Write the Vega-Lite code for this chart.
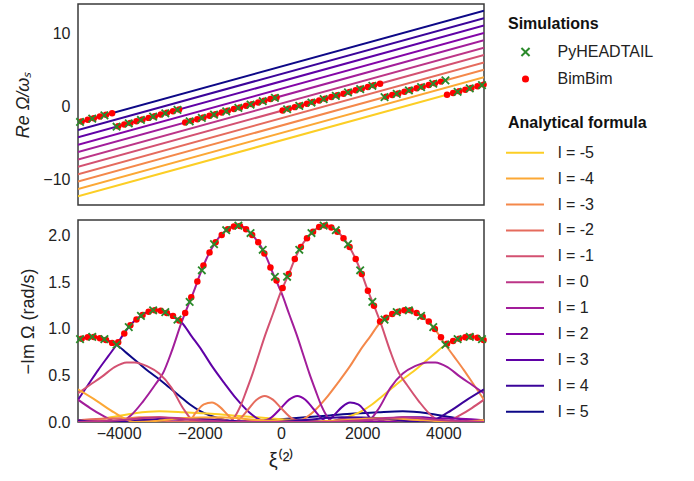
{
"$schema":"https://vega.github.io/schema/vega-lite/v6.json",
"padding":{"left":14,"right":5,"top":3,"bottom":5},
"config":{"font":"Liberation Sans","view":{"stroke":"#3a3a3a","strokeWidth":1.5},
"axis":{"grid":false,"domain":false,"ticks":false,"labelFontSize":16,"labelColor":"#222","titleFontSize":18,"titleFontWeight":"normal","titleColor":"#222","labelPadding":8},
"legend":{"padding":0,"titleFontSize":16,"titleFontWeight":"bold","titleColor":"#111","labelFontSize":16,"labelColor":"#222"}},
"datasets":{
"lines":[{"l":-5,"x":-5000,"y":-12.32},{"l":-5,"x":5000,"y":2.98},{"l":-4,"x":-5000,"y":-11.31},{"l":-4,"x":5000,"y":3.99},{"l":-3,"x":-5000,"y":-10.30},{"l":-3,"x":5000,"y":5.00},{"l":-2,"x":-5000,"y":-9.29},{"l":-2,"x":5000,"y":6.01},{"l":-1,"x":-5000,"y":-8.28},{"l":-1,"x":5000,"y":7.02},{"l":0,"x":-5000,"y":-7.27},{"l":0,"x":5000,"y":8.03},{"l":1,"x":-5000,"y":-6.26},{"l":1,"x":5000,"y":9.04},{"l":2,"x":-5000,"y":-5.25},{"l":2,"x":5000,"y":10.05},{"l":3,"x":-5000,"y":-4.24},{"l":3,"x":5000,"y":11.06},{"l":4,"x":-5000,"y":-3.23},{"l":4,"x":5000,"y":12.07},{"l":5,"x":-5000,"y":-2.22},{"l":5,"x":5000,"y":13.08}],
"sim":[
{"s":"BimBim","x":-4910,"re":-2.08,"im":0.895},{"s":"BimBim","x":-4760,"re":-1.85,"im":0.911},{"s":"BimBim","x":-4610,"re":-1.62,"im":0.913},{"s":"BimBim","x":-4460,"re":-1.39,"im":0.90},{"s":"BimBim","x":-4310,"re":-1.16,"im":0.88},{"s":"BimBim","x":-4160,"re":-0.94,"im":0.85},{"s":"BimBim","x":-4010,"re":-2.73,"im":0.857},{"s":"BimBim","x":-3860,"re":-2.50,"im":0.95},{"s":"BimBim","x":-3710,"re":-2.27,"im":1.04},{"s":"BimBim","x":-3560,"re":-2.04,"im":1.10},{"s":"BimBim","x":-3410,"re":-1.81,"im":1.15},{"s":"BimBim","x":-3260,"re":-1.58,"im":1.185},{"s":"BimBim","x":-3110,"re":-1.35,"im":1.20},{"s":"BimBim","x":-2960,"re":-1.12,"im":1.195},{"s":"BimBim","x":-2810,"re":-0.89,"im":1.17},{"s":"BimBim","x":-2660,"re":-0.66,"im":1.14},{"s":"BimBim","x":-2510,"re":-0.43,"im":1.09},{"s":"BimBim","x":-2360,"re":-2.22,"im":1.17},{"s":"BimBim","x":-2210,"re":-1.99,"im":1.34},{"s":"BimBim","x":-2060,"re":-1.76,"im":1.51},{"s":"BimBim","x":-1910,"re":-1.53,"im":1.68},{"s":"BimBim","x":-1760,"re":-1.30,"im":1.82},{"s":"BimBim","x":-1610,"re":-1.07,"im":1.93},{"s":"BimBim","x":-1460,"re":-0.84,"im":2.01},{"s":"BimBim","x":-1310,"re":-0.61,"im":2.07},{"s":"BimBim","x":-1160,"re":-0.38,"im":2.10},{"s":"BimBim","x":-1010,"re":-0.16,"im":2.105},{"s":"BimBim","x":-860,"re":0.07,"im":2.07},{"s":"BimBim","x":-710,"re":0.30,"im":2.01},{"s":"BimBim","x":-560,"re":0.53,"im":1.93},{"s":"BimBim","x":-410,"re":0.76,"im":1.81},{"s":"BimBim","x":-260,"re":0.99,"im":1.66},{"s":"BimBim","x":-110,"re":1.22,"im":1.52},{"s":"BimBim","x":40,"re":-0.57,"im":1.44},{"s":"BimBim","x":190,"re":-0.34,"im":1.59},{"s":"BimBim","x":340,"re":-0.11,"im":1.75},{"s":"BimBim","x":490,"re":0.12,"im":1.88},{"s":"BimBim","x":640,"re":0.35,"im":1.975},{"s":"BimBim","x":790,"re":0.58,"im":2.045},{"s":"BimBim","x":940,"re":0.81,"im":2.095},{"s":"BimBim","x":1090,"re":1.04,"im":2.11},{"s":"BimBim","x":1240,"re":1.27,"im":2.09},{"s":"BimBim","x":1390,"re":1.50,"im":2.045},{"s":"BimBim","x":1540,"re":1.73,"im":1.975},{"s":"BimBim","x":1690,"re":1.96,"im":1.88},{"s":"BimBim","x":1840,"re":2.19,"im":1.75},{"s":"BimBim","x":1990,"re":2.41,"im":1.59},{"s":"BimBim","x":2140,"re":2.64,"im":1.41},{"s":"BimBim","x":2290,"re":2.87,"im":1.25},{"s":"BimBim","x":2440,"re":3.10,"im":1.08},{"s":"BimBim","x":2590,"re":1.31,"im":1.12},{"s":"BimBim","x":2740,"re":1.54,"im":1.16},{"s":"BimBim","x":2890,"re":1.77,"im":1.185},{"s":"BimBim","x":3040,"re":2.00,"im":1.20},{"s":"BimBim","x":3190,"re":2.23,"im":1.20},{"s":"BimBim","x":3340,"re":2.46,"im":1.17},{"s":"BimBim","x":3490,"re":2.69,"im":1.13},{"s":"BimBim","x":3640,"re":2.92,"im":1.08},{"s":"BimBim","x":3790,"re":3.15,"im":1.00},{"s":"BimBim","x":3940,"re":3.38,"im":0.91},{"s":"BimBim","x":4090,"re":1.59,"im":0.84},{"s":"BimBim","x":4240,"re":1.82,"im":0.87},{"s":"BimBim","x":4390,"re":2.05,"im":0.895},{"s":"BimBim","x":4540,"re":2.28,"im":0.91},{"s":"BimBim","x":4690,"re":2.51,"im":0.915},{"s":"BimBim","x":4840,"re":2.74,"im":0.905},{"s":"BimBim","x":4990,"re":2.97,"im":0.88},
{"s":"PyHEADTAIL","x":-4950,"re":-2.14,"im":0.89},{"s":"PyHEADTAIL","x":-4650,"re":-1.68,"im":0.915},{"s":"PyHEADTAIL","x":-4350,"re":-1.23,"im":0.89},{"s":"PyHEADTAIL","x":-4050,"re":-2.79,"im":0.83},{"s":"PyHEADTAIL","x":-3750,"re":-2.33,"im":1.02},{"s":"PyHEADTAIL","x":-3450,"re":-1.87,"im":1.14},{"s":"PyHEADTAIL","x":-3150,"re":-1.41,"im":1.20},{"s":"PyHEADTAIL","x":-2850,"re":-0.95,"im":1.18},{"s":"PyHEADTAIL","x":-2550,"re":-0.49,"im":1.10},{"s":"PyHEADTAIL","x":-2250,"re":-2.05,"im":1.29},{"s":"PyHEADTAIL","x":-1950,"re":-1.59,"im":1.63},{"s":"PyHEADTAIL","x":-1650,"re":-1.14,"im":1.91},{"s":"PyHEADTAIL","x":-1350,"re":-0.68,"im":2.06},{"s":"PyHEADTAIL","x":-1050,"re":-0.22,"im":2.11},{"s":"PyHEADTAIL","x":-750,"re":0.24,"im":2.03},{"s":"PyHEADTAIL","x":-450,"re":0.70,"im":1.85},{"s":"PyHEADTAIL","x":-150,"re":1.16,"im":1.56},{"s":"PyHEADTAIL","x":150,"re":-0.40,"im":1.56},{"s":"PyHEADTAIL","x":450,"re":0.06,"im":1.85},{"s":"PyHEADTAIL","x":750,"re":0.52,"im":2.03},{"s":"PyHEADTAIL","x":1050,"re":0.98,"im":2.11},{"s":"PyHEADTAIL","x":1350,"re":1.44,"im":2.06},{"s":"PyHEADTAIL","x":1650,"re":1.90,"im":1.91},{"s":"PyHEADTAIL","x":1950,"re":2.35,"im":1.63},{"s":"PyHEADTAIL","x":2250,"re":2.81,"im":1.29},{"s":"PyHEADTAIL","x":2550,"re":1.25,"im":1.10},{"s":"PyHEADTAIL","x":2850,"re":1.71,"im":1.18},{"s":"PyHEADTAIL","x":3150,"re":2.17,"im":1.20},{"s":"PyHEADTAIL","x":3450,"re":2.63,"im":1.14},{"s":"PyHEADTAIL","x":3750,"re":3.09,"im":1.02},{"s":"PyHEADTAIL","x":4050,"re":3.55,"im":0.83},{"s":"PyHEADTAIL","x":4350,"re":1.99,"im":0.89},{"s":"PyHEADTAIL","x":4650,"re":2.45,"im":0.915},{"s":"PyHEADTAIL","x":4950,"re":2.90,"im":0.89}],
"curves":[
{"l":5,"x":-5000,"y":0.88},{"l":5,"x":-4850,"y":0.905},{"l":5,"x":-4700,"y":0.915},{"l":5,"x":-4550,"y":0.91},{"l":5,"x":-4400,"y":0.895},{"l":5,"x":-4250,"y":0.87},{"l":5,"x":-4050,"y":0.83},{"l":5,"x":-3800,"y":0.74},{"l":5,"x":-3500,"y":0.63},{"l":5,"x":-3250,"y":0.54},{"l":5,"x":-3000,"y":0.46},{"l":5,"x":-2750,"y":0.37},{"l":5,"x":-2500,"y":0.28},{"l":5,"x":-2250,"y":0.19},{"l":5,"x":-2000,"y":0.12},{"l":5,"x":-1750,"y":0.07},{"l":5,"x":-1500,"y":0.035},{"l":5,"x":-1250,"y":0.01},{"l":5,"x":-1000,"y":0.0},{"l":5,"x":-600,"y":0.01},{"l":5,"x":0,"y":0.03},{"l":5,"x":600,"y":0.05},{"l":5,"x":1200,"y":0.07},{"l":5,"x":1800,"y":0.09},{"l":5,"x":2400,"y":0.105},{"l":5,"x":3000,"y":0.115},{"l":5,"x":3600,"y":0.095},{"l":5,"x":4200,"y":0.05},{"l":5,"x":4700,"y":0.015},{"l":5,"x":5000,"y":0.005},
{"l":-5,"x":-5000,"y":0.005},{"l":-5,"x":-4700,"y":0.015},{"l":-5,"x":-4200,"y":0.05},{"l":-5,"x":-3600,"y":0.095},{"l":-5,"x":-3000,"y":0.115},{"l":-5,"x":-2400,"y":0.105},{"l":-5,"x":-1800,"y":0.09},{"l":-5,"x":-1200,"y":0.07},{"l":-5,"x":-600,"y":0.05},{"l":-5,"x":0,"y":0.03},{"l":-5,"x":600,"y":0.01},{"l":-5,"x":1000,"y":0.0},{"l":-5,"x":1250,"y":0.01},{"l":-5,"x":1500,"y":0.035},{"l":-5,"x":1750,"y":0.07},{"l":-5,"x":2000,"y":0.12},{"l":-5,"x":2250,"y":0.19},{"l":-5,"x":2500,"y":0.28},{"l":-5,"x":2750,"y":0.37},{"l":-5,"x":3000,"y":0.46},{"l":-5,"x":3250,"y":0.54},{"l":-5,"x":3500,"y":0.63},{"l":-5,"x":3800,"y":0.74},{"l":-5,"x":4050,"y":0.83},{"l":-5,"x":4250,"y":0.87},{"l":-5,"x":4400,"y":0.895},{"l":-5,"x":4550,"y":0.91},{"l":-5,"x":4700,"y":0.915},{"l":-5,"x":4850,"y":0.905},{"l":-5,"x":5000,"y":0.88},
{"l":3,"x":-5000,"y":0.24},{"l":3,"x":-4750,"y":0.40},{"l":3,"x":-4500,"y":0.56},{"l":3,"x":-4250,"y":0.71},{"l":3,"x":-4050,"y":0.83},{"l":3,"x":-3900,"y":0.93},{"l":3,"x":-3750,"y":1.02},{"l":3,"x":-3600,"y":1.09},{"l":3,"x":-3450,"y":1.14},{"l":3,"x":-3300,"y":1.18},{"l":3,"x":-3150,"y":1.20},{"l":3,"x":-3000,"y":1.20},{"l":3,"x":-2850,"y":1.18},{"l":3,"x":-2700,"y":1.15},{"l":3,"x":-2550,"y":1.10},{"l":3,"x":-2450,"y":1.07},{"l":3,"x":-2200,"y":0.92},{"l":3,"x":-1950,"y":0.77},{"l":3,"x":-1700,"y":0.60},{"l":3,"x":-1400,"y":0.42},{"l":3,"x":-1100,"y":0.25},{"l":3,"x":-800,"y":0.11},{"l":3,"x":-550,"y":0.03},{"l":3,"x":-330,"y":0.0},{"l":3,"x":0,"y":0.01},{"l":3,"x":500,"y":0.02},{"l":3,"x":900,"y":0.01},{"l":3,"x":1100,"y":0.0},{"l":3,"x":1300,"y":0.07},{"l":3,"x":1500,"y":0.16},{"l":3,"x":1700,"y":0.21},{"l":3,"x":1900,"y":0.19},{"l":3,"x":2100,"y":0.10},{"l":3,"x":2280,"y":0.0},{"l":3,"x":2600,"y":0.03},{"l":3,"x":3000,"y":0.05},{"l":3,"x":3500,"y":0.05},{"l":3,"x":4000,"y":0.02},{"l":3,"x":4500,"y":0.0},{"l":3,"x":5000,"y":0.01},
{"l":-3,"x":-5000,"y":0.01},{"l":-3,"x":-4500,"y":0.0},{"l":-3,"x":-4000,"y":0.02},{"l":-3,"x":-3500,"y":0.05},{"l":-3,"x":-3000,"y":0.05},{"l":-3,"x":-2600,"y":0.03},{"l":-3,"x":-2280,"y":0.0},{"l":-3,"x":-2100,"y":0.10},{"l":-3,"x":-1900,"y":0.19},{"l":-3,"x":-1700,"y":0.21},{"l":-3,"x":-1500,"y":0.16},{"l":-3,"x":-1300,"y":0.07},{"l":-3,"x":-1100,"y":0.0},{"l":-3,"x":-900,"y":0.01},{"l":-3,"x":-500,"y":0.02},{"l":-3,"x":0,"y":0.01},{"l":-3,"x":330,"y":0.0},{"l":-3,"x":550,"y":0.03},{"l":-3,"x":800,"y":0.11},{"l":-3,"x":1100,"y":0.25},{"l":-3,"x":1400,"y":0.42},{"l":-3,"x":1700,"y":0.60},{"l":-3,"x":1950,"y":0.77},{"l":-3,"x":2200,"y":0.92},{"l":-3,"x":2450,"y":1.07},{"l":-3,"x":2550,"y":1.10},{"l":-3,"x":2700,"y":1.15},{"l":-3,"x":2850,"y":1.18},{"l":-3,"x":3000,"y":1.20},{"l":-3,"x":3150,"y":1.20},{"l":-3,"x":3300,"y":1.18},{"l":-3,"x":3450,"y":1.14},{"l":-3,"x":3600,"y":1.09},{"l":-3,"x":3750,"y":1.02},{"l":-3,"x":3900,"y":0.93},{"l":-3,"x":4050,"y":0.83},{"l":-3,"x":4250,"y":0.71},{"l":-3,"x":4500,"y":0.56},{"l":-3,"x":4750,"y":0.40},{"l":-3,"x":5000,"y":0.24},
{"l":1,"x":-5000,"y":0.24},{"l":1,"x":-4700,"y":0.15},{"l":1,"x":-4400,"y":0.07},{"l":1,"x":-4150,"y":0.015},{"l":1,"x":-3966,"y":0.0},{"l":1,"x":-3700,"y":0.07},{"l":1,"x":-3400,"y":0.22},{"l":1,"x":-3100,"y":0.40},{"l":1,"x":-2900,"y":0.53},{"l":1,"x":-2700,"y":0.75},{"l":1,"x":-2450,"y":1.07},{"l":1,"x":-2300,"y":1.24},{"l":1,"x":-2150,"y":1.40},{"l":1,"x":-2000,"y":1.58},{"l":1,"x":-1850,"y":1.74},{"l":1,"x":-1700,"y":1.87},{"l":1,"x":-1550,"y":1.97},{"l":1,"x":-1400,"y":2.04},{"l":1,"x":-1250,"y":2.09},{"l":1,"x":-1100,"y":2.11},{"l":1,"x":-950,"y":2.10},{"l":1,"x":-800,"y":2.05},{"l":1,"x":-650,"y":1.98},{"l":1,"x":-500,"y":1.89},{"l":1,"x":-350,"y":1.76},{"l":1,"x":-200,"y":1.60},{"l":1,"x":-50,"y":1.45},{"l":1,"x":0,"y":1.40},{"l":1,"x":200,"y":1.16},{"l":1,"x":400,"y":0.92},{"l":1,"x":550,"y":0.72},{"l":1,"x":700,"y":0.52},{"l":1,"x":850,"y":0.34},{"l":1,"x":1000,"y":0.17},{"l":1,"x":1150,"y":0.05},{"l":1,"x":1300,"y":0.0},{"l":1,"x":1500,"y":0.01},{"l":1,"x":1800,"y":0.02},{"l":1,"x":2100,"y":0.0},{"l":1,"x":2400,"y":0.14},{"l":1,"x":2700,"y":0.37},{"l":1,"x":3000,"y":0.52},{"l":1,"x":3300,"y":0.60},{"l":1,"x":3600,"y":0.64},{"l":1,"x":3800,"y":0.64},{"l":1,"x":4100,"y":0.59},{"l":1,"x":4400,"y":0.49},{"l":1,"x":4700,"y":0.40},{"l":1,"x":5000,"y":0.31},
{"l":-1,"x":-5000,"y":0.31},{"l":-1,"x":-4700,"y":0.40},{"l":-1,"x":-4400,"y":0.49},{"l":-1,"x":-4100,"y":0.59},{"l":-1,"x":-3800,"y":0.64},{"l":-1,"x":-3600,"y":0.64},{"l":-1,"x":-3300,"y":0.60},{"l":-1,"x":-3000,"y":0.52},{"l":-1,"x":-2700,"y":0.37},{"l":-1,"x":-2400,"y":0.14},{"l":-1,"x":-2100,"y":0.0},{"l":-1,"x":-1800,"y":0.02},{"l":-1,"x":-1500,"y":0.01},{"l":-1,"x":-1300,"y":0.0},{"l":-1,"x":-1150,"y":0.05},{"l":-1,"x":-1000,"y":0.17},{"l":-1,"x":-850,"y":0.34},{"l":-1,"x":-700,"y":0.52},{"l":-1,"x":-550,"y":0.72},{"l":-1,"x":-400,"y":0.92},{"l":-1,"x":-200,"y":1.16},{"l":-1,"x":0,"y":1.40},{"l":-1,"x":50,"y":1.45},{"l":-1,"x":200,"y":1.60},{"l":-1,"x":350,"y":1.76},{"l":-1,"x":500,"y":1.89},{"l":-1,"x":650,"y":1.98},{"l":-1,"x":800,"y":2.05},{"l":-1,"x":950,"y":2.10},{"l":-1,"x":1100,"y":2.11},{"l":-1,"x":1250,"y":2.09},{"l":-1,"x":1400,"y":2.04},{"l":-1,"x":1550,"y":1.97},{"l":-1,"x":1700,"y":1.87},{"l":-1,"x":1850,"y":1.74},{"l":-1,"x":2000,"y":1.58},{"l":-1,"x":2150,"y":1.40},{"l":-1,"x":2300,"y":1.24},{"l":-1,"x":2450,"y":1.07},{"l":-1,"x":2700,"y":0.75},{"l":-1,"x":2900,"y":0.53},{"l":-1,"x":3100,"y":0.40},{"l":-1,"x":3400,"y":0.22},{"l":-1,"x":3700,"y":0.07},{"l":-1,"x":3966,"y":0.0},{"l":-1,"x":4150,"y":0.015},{"l":-1,"x":4400,"y":0.07},{"l":-1,"x":4700,"y":0.15},{"l":-1,"x":5000,"y":0.24},
{"l":2,"x":-5000,"y":0.02},{"l":2,"x":-4000,"y":0.0},{"l":2,"x":-3000,"y":0.02},{"l":2,"x":-2000,"y":0.03},{"l":2,"x":-1200,"y":0.01},{"l":2,"x":-600,"y":0.0},{"l":2,"x":-300,"y":0.03},{"l":2,"x":0,"y":0.15},{"l":2,"x":200,"y":0.24},{"l":2,"x":400,"y":0.28},{"l":2,"x":600,"y":0.24},{"l":2,"x":800,"y":0.14},{"l":2,"x":1000,"y":0.04},{"l":2,"x":1150,"y":0.0},{"l":2,"x":1500,"y":0.03},{"l":2,"x":2000,"y":0.02},{"l":2,"x":2500,"y":0.0},{"l":2,"x":3000,"y":0.02},{"l":2,"x":4000,"y":0.04},{"l":2,"x":5000,"y":0.02},
{"l":-2,"x":-5000,"y":0.02},{"l":-2,"x":-4000,"y":0.04},{"l":-2,"x":-3000,"y":0.02},{"l":-2,"x":-2500,"y":0.0},{"l":-2,"x":-2000,"y":0.02},{"l":-2,"x":-1500,"y":0.03},{"l":-2,"x":-1150,"y":0.0},{"l":-2,"x":-1000,"y":0.04},{"l":-2,"x":-800,"y":0.14},{"l":-2,"x":-600,"y":0.24},{"l":-2,"x":-400,"y":0.28},{"l":-2,"x":-200,"y":0.24},{"l":-2,"x":0,"y":0.15},{"l":-2,"x":300,"y":0.03},{"l":-2,"x":600,"y":0.0},{"l":-2,"x":1200,"y":0.01},{"l":-2,"x":2000,"y":0.03},{"l":-2,"x":3000,"y":0.02},{"l":-2,"x":4000,"y":0.0},{"l":-2,"x":5000,"y":0.02},
{"l":4,"x":-5000,"y":0.02},{"l":4,"x":-4500,"y":0.0},{"l":4,"x":-3500,"y":0.02},{"l":4,"x":-2500,"y":0.04},{"l":4,"x":-1500,"y":0.02},{"l":4,"x":-500,"y":0.0},{"l":4,"x":500,"y":0.02},{"l":4,"x":1500,"y":0.05},{"l":4,"x":2500,"y":0.04},{"l":4,"x":3100,"y":0.01},{"l":4,"x":3600,"y":0.0},{"l":4,"x":4100,"y":0.1},{"l":4,"x":4550,"y":0.23},{"l":4,"x":5000,"y":0.35},
{"l":-4,"x":-5000,"y":0.35},{"l":-4,"x":-4550,"y":0.23},{"l":-4,"x":-4100,"y":0.1},{"l":-4,"x":-3600,"y":0.0},{"l":-4,"x":-3100,"y":0.01},{"l":-4,"x":-2500,"y":0.04},{"l":-4,"x":-1500,"y":0.05},{"l":-4,"x":-500,"y":0.02},{"l":-4,"x":500,"y":0.0},{"l":-4,"x":1500,"y":0.02},{"l":-4,"x":2500,"y":0.04},{"l":-4,"x":3500,"y":0.02},{"l":-4,"x":4500,"y":0.0},{"l":-4,"x":5000,"y":0.02},
{"l":0,"x":-5000,"y":0.0},{"l":0,"x":-4000,"y":0.02},{"l":0,"x":-3000,"y":0.05},{"l":0,"x":-2000,"y":0.02},{"l":0,"x":-1000,"y":0.0},{"l":0,"x":0,"y":0.0},{"l":0,"x":1000,"y":0.0},{"l":0,"x":2000,"y":0.02},{"l":0,"x":3000,"y":0.05},{"l":0,"x":4000,"y":0.02},{"l":0,"x":5000,"y":0.0}]
},
"spacing":13,
"vconcat":[
{"width":406,"height":201,
"layer":[
{"data":{"name":"lines"},"mark":{"type":"line","strokeWidth":2,"clip":true},
"encoding":{"x":{"field":"x","type":"quantitative","scale":{"domain":[-5000,5000],"nice":false,"zero":false},"axis":null},
"y":{"field":"y","type":"quantitative","scale":{"domain":[-13.5,14],"nice":false,"zero":false},"axis":{"values":[-10,0,10],"format":"d","title":"Re Ω/ωₛ","titleFontStyle":"italic","titlePadding":10}},
"stroke":{"field":"l","type":"nominal","scale":{"domain":[-5,-4,-3,-2,-1,0,1,2,3,4,5],"range":["#fcce25","#fca835","#f4884a","#e56b5d","#d35171","#bc3587","#a21d9a","#8305a7","#5f01a6","#3b049a","#0d0887"]},
"legend":{"title":"Analytical formula","orient":"none","legendX":430,"legendY":111,"symbolType":"M-2.5,0L2.5,0","symbolSize":231,"symbolStrokeWidth":2,"symbolFillColor":"transparent","symbolOffset":8,"labelOffset":24,"rowPadding":8.9,"titlePadding":12.7,"labelExpr":"'l = ' + datum.label"}}}},
{"data":{"name":"sim"},"mark":{"type":"point","filled":true,"opacity":1,"strokeWidth":0,"size":42},
"encoding":{"x":{"field":"x","type":"quantitative"},"y":{"field":"re","type":"quantitative"},
"fill":{"field":"s","type":"nominal","scale":{"domain":["PyHEADTAIL","BimBim"],"range":["#2b8a2b","#ff0000"]},"legend":{"title":"Simulations","orient":"none","legendX":430,"legendY":12,"rowPadding":11,"titlePadding":12,"symbolOffset":9.5,"labelOffset":24,"symbolSize":50}},
"shape":{"field":"s","type":"nominal","scale":{"domain":["PyHEADTAIL","BimBim"],"range":["M-1.35,-0.95L-0.95,-1.35L0,-0.4L0.95,-1.35L1.35,-0.95L0.4,0L1.35,0.95L0.95,1.35L0,0.4L-0.95,1.35L-1.35,0.95L-0.4,0Z","circle"]},"legend":{"title":"Simulations","orient":"none","legendX":430,"legendY":12,"rowPadding":11,"titlePadding":12,"symbolOffset":9.5,"labelOffset":24,"symbolSize":50}}}}
]},
{"width":406,"height":202,
"layer":[
{"data":{"name":"curves"},"mark":{"type":"line","strokeWidth":2,"interpolate":"monotone","clip":true},
"encoding":{"x":{"field":"x","type":"quantitative","scale":{"domain":[-5000,5000],"nice":false,"zero":false},"axis":{"values":[-4000,-2000,0,2000,4000],"format":"d","title":"ξ⁽²⁾","titleFontSize":20,"titlePadding":9,"labelPadding":3}},
"y":{"field":"y","type":"quantitative","scale":{"domain":[0,2.17],"nice":false},"axis":{"values":[0,0.5,1,1.5,2],"format":".1f","title":"−Im Ω (rad/s)","titlePadding":10}},
"stroke":{"field":"l","type":"nominal","scale":{"domain":[-5,-4,-3,-2,-1,0,1,2,3,4,5],"range":["#fcce25","#fca835","#f4884a","#e56b5d","#d35171","#bc3587","#a21d9a","#8305a7","#5f01a6","#3b049a","#0d0887"]},"legend":null}}},
{"data":{"name":"sim"},"mark":{"type":"point","filled":true,"opacity":1,"strokeWidth":0,"size":42},
"encoding":{"x":{"field":"x","type":"quantitative"},"y":{"field":"im","type":"quantitative"},
"fill":{"field":"s","type":"nominal","scale":{"domain":["PyHEADTAIL","BimBim"],"range":["#2b8a2b","#ff0000"]},"legend":null},
"shape":{"field":"s","type":"nominal","scale":{"domain":["PyHEADTAIL","BimBim"],"range":["M-1.35,-0.95L-0.95,-1.35L0,-0.4L0.95,-1.35L1.35,-0.95L0.4,0L1.35,0.95L0.95,1.35L0,0.4L-0.95,1.35L-1.35,0.95L-0.4,0Z","circle"]},"legend":null}}}
]}
]
}
